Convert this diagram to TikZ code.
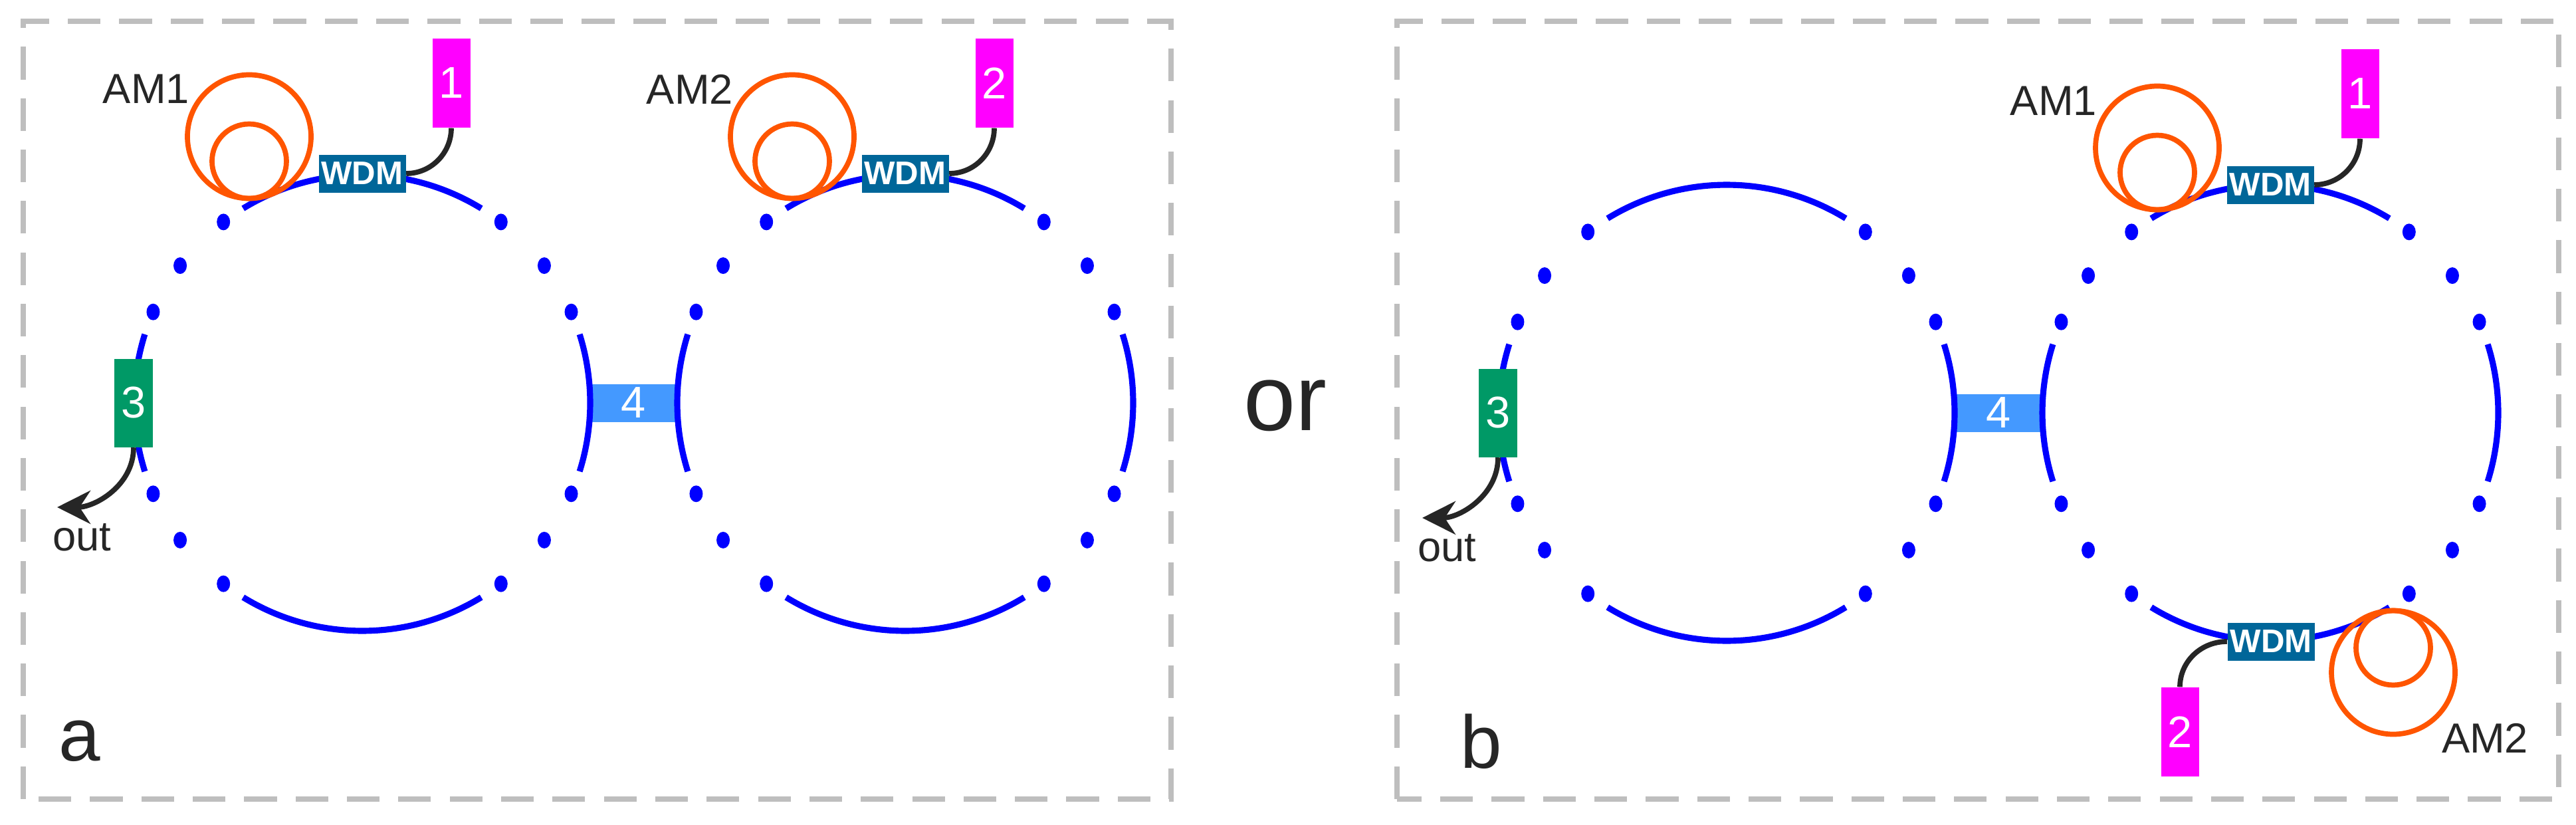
\documentclass[tikz,border=0pt]{standalone}
\usepackage{fontspec}
\setmainfont{Liberation Sans}
\usetikzlibrary{arrows.meta,calc,positioning}

\definecolor{fiberblue}{RGB}{0,0,255}
\definecolor{loopor}{RGB}{255,85,0}
\definecolor{wdmblue}{RGB}{0,102,153}
\definecolor{pumpmag}{RGB}{255,0,255}
\definecolor{outgreen}{RGB}{0,153,102}
\definecolor{couplblue}{RGB}{68,153,255}
\definecolor{framegray}{RGB}{190,190,190}

\newcommand{\FLRadius}{3.43}
\newcommand{\FLRing}[2]{
  \coordinate (#1) at #2;
  \foreach \a/\b in {-17.5/17.5,58.5/121.5,162.5/197.5,238.5/301.5}
    \draw[fiber] ($(#1)+(\a:\FLRadius)$) arc[start angle=\a, end angle=\b, radius=\FLRadius];
  \foreach \a in {23.5,37,52.5,127.5,143,156.5,203.5,217,232.5,307.5,323,336.5}
    \fill[fiberblue] ($(#1)+(\a:\FLRadius)$) ellipse[x radius=0.1, y radius=0.125];
}
\newcommand{\FLLoop}[3]{
  \coordinate (#1) at #2;
  \draw[amloop] ($(#1)+(0,#3*0.93)$) circle[radius=0.93];
  \draw[amloop] ($(#1)+(0,#3*0.56)$) circle[radius=0.56];
}

\tikzset{
  fiber/.style={fiberblue, line width=2.6pt},
  amloop/.style={loopor, line width=2.2pt},
  lead/.style={black!85, line width=2.2pt},
  frame/.style={framegray, line width=2.4pt, dash pattern=on 14pt off 8pt},
  box/.style={inner sep=0pt, text=white, font=\fontsize{19}{19}\selectfont},
  wdm/.style={box, fill=wdmblue, minimum width=1.31cm, minimum height=0.57cm, font=\bfseries\fontsize{14}{14}\selectfont},
  pump/.style={box, fill=pumpmag, minimum width=0.57cm, minimum height=1.34cm},
  outc/.style={box, fill=outgreen, minimum width=0.58cm, minimum height=1.33cm},
  coupl/.style={box, fill=couplblue, minimum width=1.32cm, minimum height=0.57cm},
  lbl/.style={font=\fontsize{18}{18}\selectfont, text=black!85},
  outarrow/.style={lead, -{Stealth[length=0.5cm, width=0.5cm]}}
}

\begin{document}
\begin{tikzpicture}
\useasboundingbox (0,0) rectangle (38.76,12.40);

% frames
\draw[frame] (0.35,0.38) rectangle (17.62,12.08);
\draw[frame] (21.02,0.38) rectangle (38.50,12.08);
\node[font=\fontsize{40}{40}\selectfont, text=black!85] (or) at (19.34,6.30) {or};
\node[font=\fontsize{32}{32}\selectfont, text=black!85] (la) at (1.20,1.25) {a};
\node[font=\fontsize{32}{32}\selectfont, text=black!85] (lb) at (22.29,1.25) {b};

% panel a
\node[coupl] (ca) at (9.535,6.34) {4};
\FLRing{ra1}{(5.45,6.34)}
\FLRing{ra2}{(13.62,6.34)}

\FLLoop{la1}{(3.75,9.415)}{1}
\node[wdm] (wa1) at (5.45,9.79) {WDM};
\node[pump] (pa1) at ($(wa1)+(1.34,1.36)$) {1};
\node[lbl] (ta1) at ($(wa1)+(-3.25,1.27)$) {AM1};
\draw[lead] (wa1.east) to[out=0, in=-90] (pa1.south);

\FLLoop{la2}{(11.92,9.415)}{1}
\node[wdm] (wa2) at (13.62,9.79) {WDM};
\node[pump] (pa2) at ($(wa2)+(1.34,1.36)$) {2};
\node[lbl] (ta2) at ($(wa2)+(-3.24,1.27)$) {AM2};
\draw[lead] (wa2.east) to[out=0, in=-90] (pa2.south);

\node[outc] (oa) at (2.01,6.34) {3};
\coordinate (oatip) at (0.86,4.77);
\draw[outarrow] (oa.south) to[out=-90, in=0] (oatip);
\node[lbl, below=0.12cm of oatip, xshift=0.37cm] (outa) {out};

% panel b
\node[coupl] (cb) at (30.07,6.19) {4};
\FLRing{rb1}{(25.98,6.19)}
\FLRing{rb2}{(34.16,6.19)}

\FLLoop{lb1}{(32.46,9.245)}{1}
\node[wdm] (wb1) at (34.16,9.62) {WDM};
\node[pump] (pb1) at ($(wb1)+(1.35,1.37)$) {1};
\node[lbl] (tb1) at ($(wb1)+(-3.26,1.26)$) {AM1};
\draw[lead] (wb1.east) to[out=0, in=-90] (pb1.south);

\FLLoop{lb2}{(36.01,3.215)}{-1}
\node[wdm] (wb2) at (34.17,2.75) {WDM};
\node[pump] (pb2) at ($(wb2)+(-1.37,-1.36)$) {2};
\node[lbl] (tb2) at ($(wb2)+(3.22,-1.45)$) {AM2};
\draw[lead] (wb2.west) to[out=180, in=90] (pb2.north);

\node[outc] (ob) at (22.54,6.19) {3};
\coordinate (obtip) at (21.40,4.61);
\draw[outarrow] (ob.south) to[out=-90, in=0] (obtip);
\node[lbl, below=0.12cm of obtip, xshift=0.37cm] (outb) {out};
\end{tikzpicture}
\end{document}
